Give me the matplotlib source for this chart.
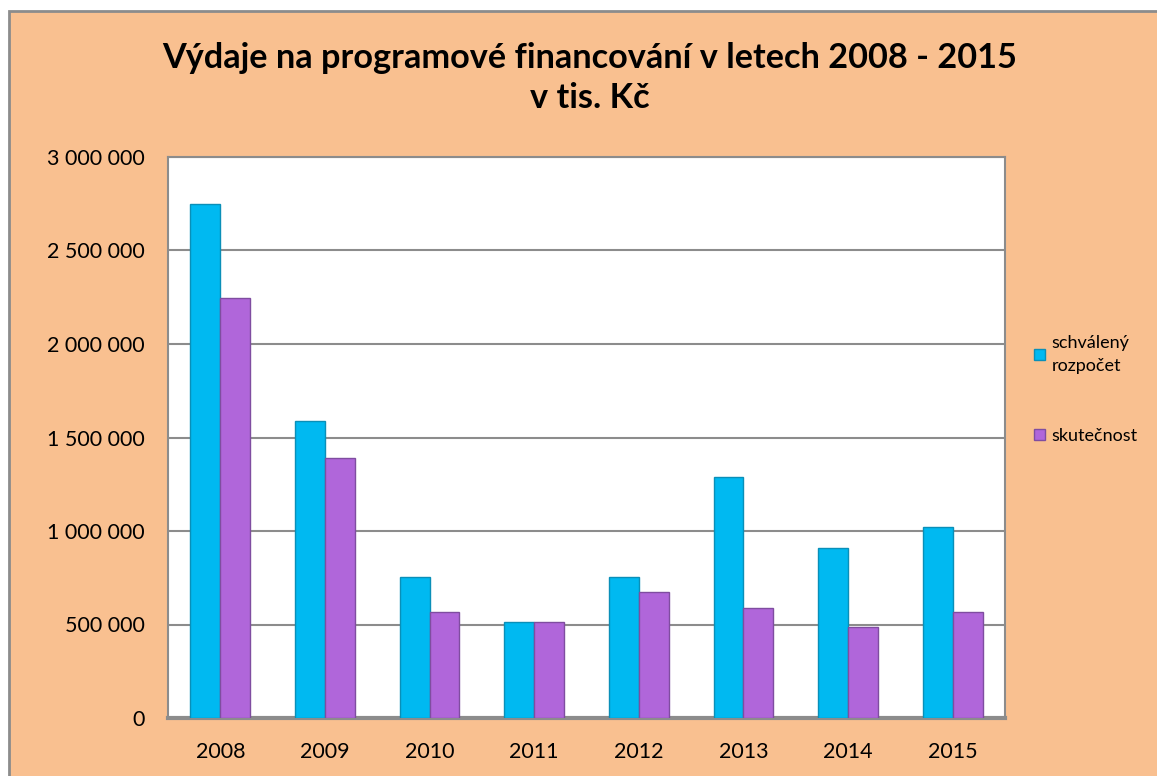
import matplotlib
matplotlib.use("Agg")
from matplotlib import pyplot as plt
from matplotlib.patches import Rectangle
from matplotlib.ticker import FuncFormatter
import numpy as np

plt.rcParams['font.family'] = ['Lato', 'DejaVu Sans']

years = ["2008", "2009", "2010", "2011", "2012", "2013", "2014", "2015"]
schvaleny = [2750000, 1590000, 755000, 515000, 755000, 1290000, 910000, 1022000]
skutecnost = [2246000, 1389000, 565000, 511000, 675000, 588000, 486000, 566000]

fig = plt.figure(figsize=(11.57, 7.76), dpi=100, facecolor="white")
# peach chart area with grey frame
fig.patches.append(Rectangle((9 / 1157, -0.05), 1.2, 1.05 - 11 / 776, transform=fig.transFigure,
                             facecolor="#F9C090", edgecolor="#8C8C8C", lw=2, zorder=-1))

ax = fig.add_axes([168 / 1157, 1 - 718 / 776, (1005 - 168) / 1157, (718 - 157) / 776])
ax.set_facecolor("white")

x = np.arange(len(years))
w = 0.286
ax.bar(x - w / 2, schvaleny, w, color="#00B9F1", edgecolor="#0A8FB8", lw=1, label="schválený\nrozpočet", zorder=3)
ax.bar(x + w / 2, skutecnost, w, color="#B066DA", edgecolor="#7F4DA0", lw=1, label="skutečnost", zorder=3)

ax.set_xlim(-0.5, len(years) - 0.5)
ax.set_ylim(0, 3000000)
ax.set_yticks(np.arange(0, 3000001, 500000))
ax.yaxis.set_major_formatter(FuncFormatter(lambda v, p: f"{int(v):,}".replace(",", " ")))
ax.set_xticks(x)
ax.set_xticklabels(years)
ax.tick_params(length=0, labelsize=15.5)
ax.tick_params(axis="x", pad=17)
ax.tick_params(axis="y", pad=17)
ax.grid(axis="y", color="#8C8C8C", lw=1.5, zorder=0)
ax.set_axisbelow(True)
for s in ax.spines.values():
    s.set_color("#8C8C8C")
    s.set_linewidth(1.5)
ax.spines["bottom"].set_linewidth(3)

fig.text(590 / 1157, 1 - 78 / 776, "Výdaje na programové financování v letech 2008 - 2015\nv tis. Kč",
         ha="center", va="center", fontsize=24.7, fontweight="bold", linespacing=1.3)

leg = ax.legend(loc="upper left", bbox_to_anchor=(1018 / 1157, 1 - 319 / 776), bbox_transform=fig.transFigure,
                frameon=False, fontsize=13, handlelength=0.6, handleheight=0.6, handletextpad=0.35,
                labelspacing=3.0)
for t in leg.get_texts():
    t.set_linespacing(1.5)

fig.savefig("out.png", dpi=100, facecolor=fig.get_facecolor())
